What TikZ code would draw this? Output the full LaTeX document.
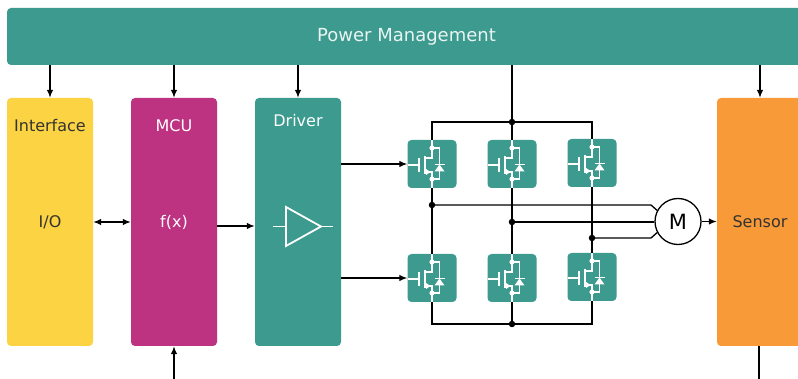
\documentclass[tikz,border=0pt]{standalone}
\usepackage{fontspec}
\setmainfont{DejaVu Sans}
\usetikzlibrary{arrows.meta,calc}
\definecolor{teal}{HTML}{3C9A8E}
\definecolor{ifyellow}{HTML}{FCD342}
\definecolor{mcumag}{HTML}{BD3281}
\definecolor{sensorange}{HTML}{F89A38}
\definecolor{darktext}{HTML}{333333}
\definecolor{pmtext}{HTML}{EAF4F2}
\tikzset{
  bigbox/.style={rectangle, rounded corners=4pt, minimum width=86pt, minimum height=248pt, inner sep=0pt},
  swbox/.style={rectangle, rounded corners=4pt, fill=teal, minimum width=49pt, minimum height=48pt, inner sep=0pt},
  lbl/.style={font=\fontsize{16}{19}\selectfont, inner sep=0pt},
  wire/.style={line width=1.3pt, draw=black},
  arr/.style={wire, -{Latex[length=8pt,width=6.5pt]}},
  darr/.style={wire, {Latex[length=8pt,width=6.5pt]}-{Latex[length=8pt,width=6.5pt]}},
  sym/.style={line width=1.5pt, draw=white},
  jdot/.style={circle, fill=black, inner sep=0pt, minimum size=6.5pt},
}
\begin{document}
\begin{tikzpicture}[x=1pt,y=-1pt]
\useasboundingbox (0,0) rectangle (798,379);
\clip (0,0) rectangle (798,379);
\fill[white] (0,0) rectangle (798,379);
% power management bar
\node[rectangle, rounded corners=4pt, fill=teal, minimum width=800pt, minimum height=57pt, inner sep=0pt] (pm) at (407,36.5) {};
\node[font=\fontsize{18}{21}\selectfont, text=pmtext, inner sep=0pt] (pmlbl) at (406.5,37) {Power Management};
% main blocks
\node[bigbox, fill=ifyellow] (iface) at (50,222) {};
\node[bigbox, fill=mcumag] (mcu) at (174,222) {};
\node[bigbox, fill=teal] (drv) at (298,222) {};
\node[bigbox, fill=sensorange] (sens) at (760,222) {};
\node[lbl, text=darktext] (ifl) at (50,126) {Interface};
\node[lbl, text=darktext] (iol) at (50,222) {I/O};
\node[lbl, text=white] (mcul) at (174,126) {MCU};
\node[lbl, text=white] (fxl) at (174,222) {f(x)};
\node[lbl, text=white] (drvl) at (298,121) {Driver};
\node[lbl, text=darktext] (sensl) at (760,222) {Sensor};
% amplifier symbol
\draw[line width=1.8pt, draw=white, line join=miter] (286,207) -- (321,226.5) -- (286,246) -- cycle;
\draw[line width=1.3pt, draw=white] (273,226.5) -- (286,226.5) (321,226.5) -- (333,226.5);
% power arrows
\draw[arr] (pm.south -| iface) -- (iface.north);
\draw[arr] (pm.south -| mcu) -- (mcu.north);
\draw[arr] (pm.south -| drv) -- (drv.north);
\draw[arr] (pm.south -| sens) -- (sens.north);
% signal arrows
\draw[darr] (iface.east) -- (mcu.west);
\draw[arr] ([yshift=-4pt]mcu.east) -- ([yshift=-4pt]drv.west);
\coordinate (mcuin) at (174,382);
\draw[arr] (mcuin) -- (mcu.south);
\coordinate (sensout) at (759,382);
\draw[wire] (sens.south -| sensout) -- (sensout);
% switches
\node[swbox] (q1) at (432,164) {};
\node[swbox] (q2) at (512,164) {};
\node[swbox] (q3) at (592,163) {};
\node[swbox] (q4) at (432,278) {};
\node[swbox] (q5) at (512,278) {};
\node[swbox] (q6) at (592,277) {};
\foreach \q in {q1,q2,q3,q4,q5,q6}{
  \begin{scope}[shift={(\q.center)}]
    \draw[sym] (-24.5,1) -- (-13,1);
    \draw[sym] (-13,-6) -- (-13,8);
    \draw[sym] (-7,-8) -- (-7,10);
    \draw[sym] (-7,-6) -- (0,-6) -- (0,-24);
    \draw[sym] (0,-16) -- (7.5,-16) -- (7.5,15) -- (0,15);
    \draw[sym] (-7,8) -- (0,8) -- (0,24);
    \fill[white] (-1.5,8) -- (-6,5) -- (-6,11) -- cycle;
    \fill[white] (0,-16) circle (2.6);
    \fill[white] (0,15) circle (2.6);
    \fill[white] (7.5,0.5) -- (2.5,7.5) -- (12.5,7.5) -- cycle;
    \draw[sym] (2.5,0.5) -- (12.5,0.5);
  \end{scope}
}
% driver outputs
\draw[arr] (q1.west -| drv.east) -- (q1.west);
\draw[arr] (q4.west -| drv.east) -- (q4.west);
% rails
\coordinate (tj) at (512,122);
\coordinate (bj) at (512,324);
\draw[wire] (pm.south -| tj) -- (tj);
\draw[wire] (q1.north) |- (tj) -| (q3.north);
\draw[wire] (tj) -- (q2.north);
\draw[wire] (q4.south) |- (bj) -| (q6.south);
\draw[wire] (bj) -- (q5.south);
\node[jdot] (tjd) at (tj) {};
\node[jdot] (bjd) at (bj) {};
% phases
\draw[wire] (q1.south) -- (q4.north);
\draw[wire] (q2.south) -- (q5.north);
\draw[wire] (q3.south) -- (q6.north);
\node[circle, draw=black, line width=1.3pt, fill=white, minimum size=46pt, inner sep=0pt, font=\fontsize{21}{25}\selectfont] (mot) at (678,221.5) {M};
\coordinate (pa) at (432,205);
\coordinate (pb) at (512,222);
\coordinate (pc) at (592,238);
\draw[wire] (pa) -- (651,205) -- (mot.152);
\draw[wire] (pb) -- (pb -| mot.west);
\draw[wire] (pc) -- (651,238) -- (mot.208);
\node[jdot] (pad) at (pa) {};
\node[jdot] (pbd) at (pb) {};
\node[jdot] (pcd) at (pc) {};
\draw[arr] (mot.east) -- (mot.east -| sens.west);
\end{tikzpicture}
\end{document}
